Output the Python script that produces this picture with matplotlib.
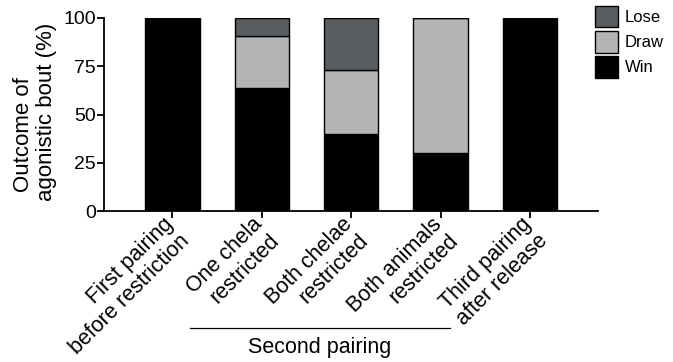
import matplotlib
matplotlib.use("Agg")
import matplotlib.pyplot as plt
from matplotlib.patches import Patch
import matplotlib.transforms as mtransforms
import numpy as np

plt.rcParams['font.family'] = ['Liberation Sans', 'DejaVu Sans']

categories = ["First pairing\nbefore restriction", "One chela\nrestricted",
              "Both chelae\nrestricted", "Both animals\nrestricted",
              "Third pairing\nafter release"]
win = [100, 63.6, 40.0, 30.0, 100]
draw = [0, 27.3, 33.3, 70.0, 0]
lose = [0, 9.1, 26.7, 0, 0]
yticks = [0, 25, 50, 75, 100]
group_label = "Second pairing"
ylabel_lines = ["Outcome of", "agonistic bout (%)"]

c_win, c_draw, c_lose = "#000000", "#b3b5b6", "#595d5f"

fig = plt.figure(figsize=(6.73, 3.62), dpi=100)
ax = fig.add_axes([104/673, 1-211/362, (598-104)/673, (211-18)/362])

x = np.arange(len(categories))
w = 0.61
win_a, draw_a, lose_a = map(np.array, (win, draw, lose))
ax.bar(x, win_a, w, color=c_win, edgecolor="black", linewidth=1)
ax.bar(x, draw_a, w, bottom=win_a, color=c_draw, edgecolor="black", linewidth=1)
ax.bar(x, lose_a, w, bottom=win_a + draw_a, color=c_lose, edgecolor="black", linewidth=1)

ax.set_xlim(-0.765, 4.76)
ax.set_ylim(0, 100)
ax.set_yticks(yticks)
ax.set_yticklabels([str(v) for v in yticks], fontsize=14)
ax.set_xticks(x)
ax.set_xticklabels(categories, rotation=45, ha="right", rotation_mode="anchor",
                   multialignment="right", fontsize=15.5, linespacing=1.15)
for s in ["top", "right"]:
    ax.spines[s].set_visible(False)
for s in ["left", "bottom"]:
    ax.spines[s].set_linewidth(1.3)
ax.tick_params(axis="both", width=1.3, length=5)
ax.tick_params(axis="y", pad=1)
ax.tick_params(axis="x", pad=-3)
shift = mtransforms.ScaledTranslation(-7/72, 0, fig.dpi_scale_trans)
for lbl in ax.get_xticklabels():
    lbl.set_transform(lbl.get_transform() + shift)

# two-line y label, placed as in the reference
fig.text(24/673, 1-135/362, ylabel_lines[0], rotation=90, ha="center", va="center",
         fontsize=16)
fig.text(47/673, 1-111.5/362, ylabel_lines[1], rotation=90, ha="center", va="center",
         fontsize=16)

trans = mtransforms.blended_transform_factory(ax.transData, ax.transAxes)
ax.plot([0.2, 3.1], [-0.605, -0.605], color="black", linewidth=0.9,
        transform=trans, clip_on=False)
ax.text(1.65, -0.705, group_label, transform=trans, ha="center", va="center", fontsize=15.5)

handles = [Patch(facecolor=c_lose, edgecolor="black", label="Lose"),
           Patch(facecolor=c_draw, edgecolor="black", label="Draw"),
           Patch(facecolor=c_win, edgecolor="black", label="Win")]
fig.legend(handles=handles, loc="upper left", bbox_to_anchor=(595/673, 1-6/362),
           frameon=False, fontsize=12, handlelength=1.4, handleheight=1.6,
           labelspacing=0.22, handletextpad=0.4, borderpad=0, borderaxespad=0)

fig.savefig("out.png", dpi=100)
